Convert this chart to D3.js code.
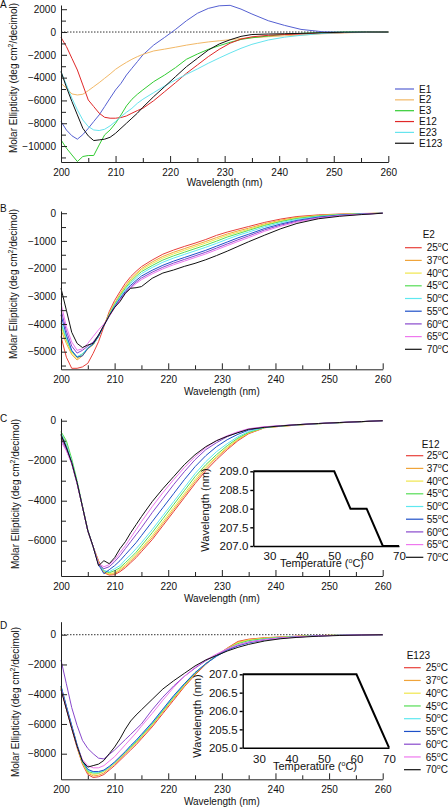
<!DOCTYPE html>
<html><head><meta charset="utf-8">
<script src="https://cdn.jsdelivr.net/npm/d3@7"></script>
<style>body{margin:0;background:#fff}svg{display:block;font-family:"Liberation Sans",Arial,sans-serif}</style>
</head><body><svg id="c" width="448" height="808"></svg>
<script>
// ---------- DATA ----------
const wavelengths = [200,201,202,203,204,205,206,207,208,209,210,211,212,213,214,215,217,219,221,223,225,227,229,231,233,235,238,241,244,248,252,256,260];

// Panel A
const namesA = ["E1","E2","E3","E12","E23","E123"];
const a_E1 = [-7850,-8600,-9100,-9400,-9000,-8450,-7850,-7270,-6540,-5800,-5080,-4500,-3770,-3180,-2600,-2010,-1140,-470,230,990,1640,2070,2300,2340,2010,1580,990,580,230,20,0,0,0];
const a_E2 = [-4500,-4930,-5430,-5520,-5460,-5140,-4790,-4440,-4060,-3680,-3270,-2950,-2660,-2390,-2160,-1960,-1660,-1500,-1330,-1150,-1000,-870,-770,-670,-570,-500,-410,-330,-270,-150,-70,-30,0];
const a_E3 = [-9460,-10190,-10780,-11360,-10920,-10830,-10830,-9900,-9020,-8590,-8000,-7270,-6480,-5900,-5460,-5080,-4350,-3770,-3120,-2390,-1930,-1520,-1200,-900,-650,-500,-350,-200,-120,-50,0,0,0];
const a_E12 = [-470,-1280,-2310,-3330,-4640,-5960,-6540,-7120,-7480,-7560,-7560,-7500,-7360,-7120,-6890,-6690,-6020,-5230,-4440,-3620,-2890,-2160,-1520,-980,-620,-420,-290,-220,-175,-100,-50,-20,0];
const a_E23 = [-3470,-4640,-5810,-6830,-7710,-8290,-8590,-8640,-8530,-8230,-7850,-7420,-7040,-6690,-6250,-5900,-5310,-4730,-4200,-3710,-3240,-2740,-2280,-1840,-1430,-1080,-700,-450,-290,-120,-40,-10,0];
const a_E123 = [-3470,-4850,-6100,-7270,-8440,-9110,-9520,-9460,-9400,-9230,-8880,-8440,-8000,-7560,-7120,-6600,-5660,-4790,-3910,-3040,-2310,-1580,-1050,-680,-380,-220,-175,-150,-120,-60,-20,0,0];

// Temperatures (legend labels for B, C, D and inset x values)
const temps = [25,37,40,45,50,55,60,65,70];

// Panel B (E2)
const b_25 = [-4450,-5200,-5600,-5600,-5550,-5420,-5060,-4640,-4100,-3550,-3150,-2830,-2530,-2290,-2100,-1930,-1690,-1480,-1330,-1200,-1080,-950,-800,-680,-580,-480,-330,-210,-120,-60,-30,-10,0];
const b_37 = [-4210,-4700,-5100,-5300,-5150,-4900,-4750,-4450,-4050,-3620,-3250,-2920,-2620,-2370,-2180,-2000,-1760,-1560,-1410,-1280,-1150,-1020,-880,-750,-640,-540,-380,-250,-150,-80,-40,-15,0];
const b_40 = [-4090,-4600,-5050,-5250,-5100,-4880,-4740,-4450,-4050,-3640,-3270,-2950,-2660,-2410,-2220,-2050,-1820,-1620,-1470,-1340,-1210,-1080,-940,-800,-690,-580,-410,-280,-170,-90,-45,-20,0];
const b_45 = [-3970,-4550,-5000,-5200,-5080,-4870,-4740,-4450,-4060,-3660,-3300,-2990,-2710,-2470,-2280,-2110,-1890,-1690,-1540,-1410,-1280,-1150,-1010,-860,-740,-620,-440,-300,-190,-100,-50,-20,0];
const b_50 = [-3910,-4500,-4980,-5180,-5080,-4860,-4730,-4450,-4060,-3680,-3330,-3030,-2760,-2530,-2350,-2180,-1960,-1770,-1620,-1490,-1360,-1230,-1090,-940,-800,-680,-490,-340,-220,-120,-60,-25,0];
const b_55 = [-3670,-4400,-4950,-5200,-5150,-4880,-4720,-4440,-4060,-3700,-3370,-3080,-2820,-2600,-2430,-2270,-2060,-1880,-1730,-1600,-1470,-1340,-1190,-1040,-890,-760,-550,-390,-260,-140,-70,-30,0];
const b_60 = [-3490,-4250,-4800,-5050,-4950,-4800,-4650,-4400,-4060,-3720,-3400,-3120,-2870,-2660,-2490,-2340,-2130,-1950,-1800,-1670,-1540,-1410,-1260,-1110,-960,-820,-600,-430,-290,-160,-80,-35,0];
const b_65 = [-3250,-4100,-4650,-4950,-4900,-4700,-4450,-4210,-4000,-3720,-3420,-3150,-2910,-2710,-2540,-2400,-2190,-2010,-1860,-1730,-1600,-1470,-1320,-1170,-1020,-880,-650,-470,-320,-180,-90,-40,0];
const b_70 = [-2710,-3500,-4300,-4700,-4850,-4760,-4700,-4400,-4050,-3700,-3400,-3190,-2890,-2710,-2690,-2650,-2350,-2160,-2050,-1920,-1810,-1680,-1530,-1370,-1200,-1030,-790,-560,-370,-200,-110,-50,0];

// Panel C (E12)
const c_25 = [-800,-1350,-2100,-3100,-4300,-5500,-6300,-7000,-7600,-7720,-7700,-7550,-7350,-7100,-6850,-6550,-5950,-5250,-4550,-3850,-3150,-2500,-1950,-1450,-1000,-650,-350,-280,-220,-150,-100,-50,0];
const c_37 = [-700,-1300,-2100,-3100,-4300,-5500,-6300,-7050,-7600,-7680,-7650,-7480,-7270,-7020,-6750,-6450,-5850,-5150,-4450,-3750,-3050,-2400,-1850,-1380,-950,-620,-350,-280,-220,-150,-100,-50,0];
const c_40 = [-550,-1150,-2050,-3100,-4300,-5500,-6300,-7100,-7550,-7650,-7600,-7420,-7200,-6950,-6680,-6380,-5750,-5050,-4350,-3650,-2950,-2300,-1800,-1330,-920,-600,-340,-270,-210,-150,-100,-50,0];
const c_45 = [-550,-1000,-1900,-3000,-4250,-5450,-6300,-7150,-7500,-7600,-7500,-7350,-7100,-6850,-6580,-6250,-5600,-4900,-4200,-3500,-2800,-2200,-1700,-1250,-870,-580,-340,-270,-210,-150,-100,-50,0];
const c_50 = [-600,-1200,-2050,-3100,-4300,-5500,-6300,-7150,-7500,-7550,-7400,-7250,-6950,-6700,-6400,-6100,-5450,-4750,-4050,-3350,-2650,-2050,-1550,-1150,-800,-540,-330,-260,-210,-150,-100,-50,0];
const c_55 = [-700,-1300,-2100,-3100,-4300,-5500,-6300,-7200,-7650,-7450,-7250,-7000,-6700,-6400,-6100,-5750,-5050,-4350,-3650,-2950,-2300,-1750,-1300,-950,-680,-470,-320,-260,-200,-140,-90,-45,0];
const c_60 = [-900,-1450,-2150,-3150,-4300,-5500,-6300,-7200,-7400,-7300,-7050,-6750,-6400,-6050,-5700,-5350,-4600,-3900,-3200,-2550,-1950,-1450,-1100,-800,-580,-420,-310,-250,-200,-140,-90,-45,0];
const c_65 = [-1050,-1500,-2150,-3150,-4300,-5500,-6300,-7150,-7300,-7200,-6950,-6600,-6250,-5850,-5450,-5050,-4300,-3600,-2950,-2350,-1800,-1350,-1000,-750,-550,-400,-300,-250,-200,-140,-90,-45,0];
const c_70 = [-700,-1350,-2100,-3100,-4300,-5500,-6300,-7250,-7000,-7150,-6850,-6400,-6050,-5600,-5200,-4800,-4050,-3400,-2800,-2200,-1700,-1300,-1000,-780,-600,-430,-330,-260,-200,-140,-90,-45,0];

// Panel D (E123)
const d_25 = [-3600,-5000,-6300,-7600,-8700,-9400,-9600,-9550,-9400,-9100,-8800,-8450,-8100,-7750,-7400,-7000,-6200,-5300,-4400,-3500,-2700,-2000,-1400,-900,-450,-300,-200,-150,-100,-60,-30,-10,0];
const d_37 = [-3600,-4950,-6250,-7550,-8650,-9300,-9500,-9450,-9300,-9000,-8700,-8350,-8000,-7650,-7300,-6900,-6100,-5200,-4300,-3450,-2650,-1950,-1400,-920,-500,-330,-220,-160,-110,-60,-30,-10,0];
const d_40 = [-3550,-4900,-6200,-7500,-8600,-9250,-9400,-9350,-9200,-8950,-8650,-8300,-7950,-7600,-7250,-6850,-6050,-5150,-4250,-3400,-2600,-1950,-1400,-950,-550,-360,-240,-170,-120,-60,-30,-10,0];
const d_45 = [-3500,-4850,-6150,-7450,-8550,-9200,-9300,-9300,-9150,-8900,-8600,-8250,-7900,-7550,-7200,-6800,-6000,-5100,-4200,-3350,-2600,-1950,-1400,-950,-600,-400,-260,-180,-120,-70,-30,-10,0];
const d_50 = [-3450,-4800,-6100,-7400,-8500,-9100,-9250,-9250,-9150,-8900,-8600,-8250,-7900,-7500,-7150,-6750,-5950,-5050,-4150,-3300,-2550,-1950,-1450,-1000,-700,-480,-300,-200,-130,-70,-30,-10,0];
const d_55 = [-3450,-4800,-6100,-7400,-8500,-9050,-9200,-9200,-9100,-8850,-8550,-8200,-7850,-7450,-7100,-6700,-5900,-5000,-4100,-3300,-2550,-1950,-1450,-1050,-750,-550,-350,-220,-150,-80,-40,-15,0];
const d_60 = [-1700,-3300,-4900,-6100,-7100,-7650,-8000,-8300,-8350,-8050,-7750,-7400,-7050,-6700,-6350,-6000,-5050,-4200,-3450,-2800,-2250,-1750,-1350,-1000,-700,-500,-330,-220,-150,-80,-40,-15,0];
const d_65 = [-3600,-4950,-6250,-7500,-8400,-8800,-8950,-8950,-8800,-8500,-8200,-7800,-7400,-7000,-6600,-6150,-5300,-4400,-3550,-2800,-2200,-1700,-1300,-950,-680,-500,-330,-220,-150,-80,-40,-15,0];
const d_70 = [-3700,-5000,-6300,-7500,-8500,-8900,-8800,-8700,-8450,-8000,-7550,-7000,-6350,-5800,-5400,-5050,-4350,-3650,-3100,-2600,-2100,-1700,-1400,-1100,-850,-650,-420,-270,-180,-100,-50,-20,0];

// Insets: wavelength of minimum vs temperature
const insetC = [209,209,209,209,209,208,208,207,207];
const insetD = [207,207,207,207,207,207,207,206,205];
const insetC_ticks = [207.0,207.5,208.0,208.5,209.0];
const insetD_ticks = [205.0,205.5,206.0,206.5,207.0];
const insetX_ticks = [30,40,50,60,70];
const xTicksMajor = [200,210,220,230,240,250,260];
const xTicksMinor = [205,215,225,235,245,255];

// ---------- STYLE ----------
const colorsA = ["#5560d2","#f2b866","#33cc33","#e02828","#66e4ee","#111111"];
const colorsT = ["#e8403a","#f0a43a","#f0e64c","#55dd55","#5ee8f0","#1e50c8","#8848cc","#ee78ee","#111111"];
const FONT = '"Liberation Sans", Arial, sans-serif';

const svg = d3.select("#c");

function supText(sel, parts) {
  parts.forEach(([t, sup], i) => {
    const prevSup = i > 0 && parts[i-1][1];
    const ts = sel.append("tspan").text(t);
    if (sup) ts.attr("font-size", 7).attr("dy", -4);
    else if (prevSup) ts.attr("dy", 4);
  });
}

function drawPanel(cfg) {
  const g = svg.append("g");
  const x = d3.scaleLinear().domain([200, 260]).range([61, cfg.right]);
  const y = d3.scaleLinear().domain(cfg.yDomain).range([cfg.bottom, cfg.top]);

  if (cfg.zero) {
    g.append("line").attr("x1", 61).attr("x2", cfg.right)
      .attr("y1", y(0)).attr("y2", y(0))
      .attr("stroke", "#333").attr("stroke-width", 1).attr("stroke-dasharray", "1.5,1.5");
  }

  const line = d3.line().x((d, i) => x(wavelengths[i])).y(d => y(d));
  cfg.series.forEach((s, i) => {
    g.append("path").attr("d", line(s)).attr("fill", "none")
      .attr("stroke", cfg.colors[i]).attr("stroke-width", 1);
  });

  const ax = g.append("g").attr("transform", `translate(0,${cfg.bottom})`)
    .call(d3.axisBottom(x).tickValues(xTicksMajor).tickFormat(d3.format("d")).tickSize(-6).tickSizeOuter(0).tickPadding(cfg.xPad));
  g.append("g").attr("transform", `translate(0,${cfg.bottom})`)
    .call(d3.axisBottom(x).tickValues(xTicksMinor).tickFormat("").tickSize(-4).tickSizeOuter(0))
    .call(s => s.select(".domain").remove());
  const ay = g.append("g").attr("transform", `translate(61,0)`)
    .call(d3.axisLeft(y).tickValues(cfg.yMajor).tickFormat(d3.format("d")).tickSize(-6).tickSizeOuter(0).tickPadding(5));
  if (cfg.yMinor.length) {
    g.append("g").attr("transform", `translate(61,0)`)
      .call(d3.axisLeft(y).tickValues(cfg.yMinor).tickFormat("").tickSize(-5).tickSizeOuter(0))
      .call(s => s.select(".domain").remove());
  }
  g.selectAll(".tick line, .domain").attr("stroke", "#222");
  [ax, ay].forEach(a => a.attr("font-family", FONT).attr("font-size", 10).selectAll("text").attr("fill", "#111"));

  g.append("text").attr("x", (61 + cfg.right) / 2).attr("y", cfg.xTitleY)
    .attr("text-anchor", "middle").attr("font-size", 10).attr("fill", "#111").text("Wavelength (nm)");
  const yt = g.append("text").attr("transform", `translate(${cfg.yTitleX},${cfg.yTitleCY}) rotate(-90)`)
    .attr("text-anchor", "middle").attr("font-size", 10).attr("fill", "#111");
  supText(yt, [["Molar Ellipticity (deg cm", false], ["2", true], ["/decimol)", false]]);
  g.append("text").attr("x", 0).attr("y", cfg.letterY).attr("font-size", 10).attr("fill", "#111").text(cfg.letter);

  const L = cfg.legend;
  if (L.title) {
    g.append("text").attr("x", L.titleX).attr("y", L.titleY).attr("font-size", 10).attr("fill", "#111").text(L.title);
  }
  cfg.labels.forEach((lab, i) => {
    const cy = L.y0 + i * L.dy;
    g.append("line").attr("x1", L.x1).attr("x2", L.x2).attr("y1", cy).attr("y2", cy)
      .attr("stroke", cfg.colors[i]).attr("stroke-width", 1.2);
    const t = g.append("text").attr("x", L.tx).attr("y", cy + 3.6).attr("font-size", 10).attr("fill", "#111");
    if (typeof lab === "number") supText(t, [[String(lab), false], ["o", true], ["C", false]]);
    else t.text(lab);
  });
}

function drawInset(cfg) {
  const g = svg.append("g");
  const x = d3.scaleLinear().domain([25, 70]).range([cfg.left, cfg.right]);
  const y = d3.scaleLinear().domain(cfg.yDomain).range([cfg.bottom, cfg.top]);
  g.append("path").attr("d", d3.line().x((d, i) => x(temps[i])).y(d => y(d))(cfg.values))
    .attr("fill", "none").attr("stroke", "#000").attr("stroke-width", 2);
  const ax = g.append("g").attr("transform", `translate(0,${cfg.bottom})`)
    .call(d3.axisBottom(x).tickValues(insetX_ticks).tickFormat(d3.format("d")).tickSize(0).tickSizeOuter(0).tickPadding(cfg.xPad));
  const ay = g.append("g").attr("transform", `translate(${cfg.left},0)`)
    .call(d3.axisLeft(y).tickValues(cfg.yTicks).tickFormat(d3.format(".1f")).tickSize(3).tickSizeOuter(0).tickPadding(2));
  [ax, ay].forEach(a => {
    a.attr("font-family", FONT).attr("font-size", 11.5);
    a.selectAll("text").attr("fill", "#111");
    a.selectAll(".tick line, .domain").attr("stroke", "#000").attr("stroke-width", 1.4);
  });
  g.append("text").attr("x", cfg.xTitleX).attr("y", cfg.xTitleY).attr("text-anchor", "middle")
    .attr("font-size", 11).attr("fill", "#111")
    .call(t => supText(t, [["Temperature (", false], ["o", true], ["C)", false]]));
  g.append("text").attr("transform", `translate(${cfg.yTitleX},${cfg.yTitleCY}) rotate(-90)`)
    .attr("text-anchor", "middle").attr("font-size", 11).attr("fill", "#111").text("Wavelength (nm)");
}

drawPanel({
  letter: "A", letterY: 8, top: 5, bottom: 162, right: 388.3, yDomain: [-11400, 2370],
  yMajor: d3.range(-10000, 2001, 2000), yMinor: d3.range(-11000, 2001, 2000),
  zero: true, xPad: 7, xTitleY: 186, yTitleX: 17, yTitleCY: 78,
  series: [a_E1, a_E2, a_E3, a_E12, a_E23, a_E123], colors: colorsA, labels: namesA,
  legend: { x1: 395, x2: 414, tx: 419, y0: 89, dy: 10.85 }
});
drawPanel({
  letter: "B", letterY: 212, top: 211, bottom: 369.3, right: 382.7, yDomain: [-5636, 80],
  yMajor: d3.range(-5000, 1, 1000), yMinor: d3.range(-5500, 0, 1000),
  zero: false, xPad: 6.3, xTitleY: 395, yTitleX: 17, yTitleCY: 284,
  series: [b_25, b_37, b_40, b_45, b_50, b_55, b_60, b_65, b_70], colors: colorsT, labels: temps,
  legend: { title: "E2", titleX: 422.7, titleY: 238, x1: 405, x2: 421.7, tx: 426.7, y0: 247.7, dy: 12.7 }
});
drawPanel({
  letter: "C", letterY: 422, top: 418.3, bottom: 576, right: 382.7, yDomain: [-7765, 120],
  yMajor: d3.range(-6000, 1, 2000), yMinor: d3.range(-7000, 0, 2000),
  zero: false, xPad: 6.4, xTitleY: 602, yTitleX: 18.5, yTitleCY: 494,
  series: [c_25, c_37, c_40, c_45, c_50, c_55, c_60, c_65, c_70], colors: colorsT, labels: temps,
  legend: { title: "E12", titleX: 421.7, titleY: 447.5, x1: 406, x2: 423.3, tx: 426.7, y0: 455.7, dy: 12.7 }
});
drawPanel({
  letter: "D", letterY: 629, top: 621.7, bottom: 779.3, right: 382.7, yDomain: [-9721, 875],
  yMajor: d3.range(-8000, 1, 2000), yMinor: [],
  zero: true, xPad: 6.3, xTitleY: 805, yTitleX: 18.5, yTitleCY: 702,
  series: [d_25, d_37, d_40, d_45, d_50, d_55, d_60, d_65, d_70], colors: colorsT, labels: temps,
  legend: { title: "E123", titleX: 406.7, titleY: 658.5, x1: 404, x2: 420.7, tx: 425.7, y0: 667.7, dy: 12.75 }
});

drawInset({
  left: 253.3, right: 399, top: 471.3, bottom: 546, yDomain: [207, 209], yTicks: insetC_ticks,
  values: insetC, xPad: 6, xTitleX: 322, xTitleY: 567, yTitleX: 209, yTitleCY: 510
});
drawInset({
  left: 242.7, right: 389, top: 674.3, bottom: 747.7, yDomain: [205, 207], yTicks: insetD_ticks,
  values: insetD, xPad: 7.5, xTitleX: 315, xTitleY: 770, yTitleX: 201, yTitleCY: 716
});
</script>
</body></html>
